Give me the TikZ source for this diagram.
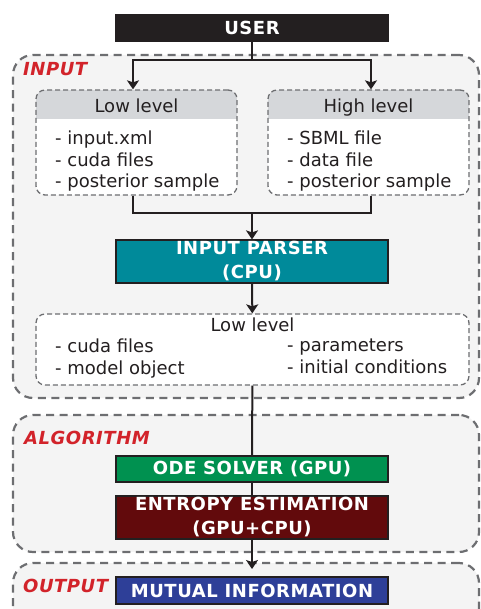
\documentclass[tikz,border=0pt]{standalone}
\usepackage{fontspec}
\setmainfont{DejaVu Sans}
\newfontfamily\stagefont[LetterSpace=3]{DejaVu Sans}
\usetikzlibrary{arrows.meta}
\definecolor{userblack}{HTML}{231F20}
\definecolor{parserteal}{HTML}{008A9A}
\definecolor{solvergreen}{HTML}{009150}
\definecolor{entropyred}{HTML}{620A0C}
\definecolor{infoblue}{HTML}{2E3F98}
\definecolor{boxgray}{HTML}{F4F4F4}
\definecolor{headgray}{HTML}{D5D7DA}
\definecolor{dashgray}{HTML}{6D6E71}
\definecolor{tagred}{HTML}{D2232A}

\begin{document}
\begin{tikzpicture}
[x=1pt,y=-1pt,
every node/.style={font=\fontsize{18}{21.5}\selectfont,text=userblack},
stage/.style={draw=userblack,line width=1.2pt,text=white,align=center,
  font=\stagefont\fontsize{18}{24}\selectfont\bfseries,minimum width=272pt,inner sep=0pt},
container/.style={draw=dashgray,fill=boxgray,line width=2.2pt,dash pattern=on 8pt off 5.5pt,
  rounded corners=20pt,minimum width=466pt,inner sep=0pt},
subbox/.style={draw=dashgray,fill=white,line width=1.3pt,dash pattern=on 5pt off 3pt,
  rounded corners=9pt,inner sep=0pt},
headed/.style={path picture={\fill[headgray,sharp corners] (path picture bounding box.north west)
  rectangle ([yshift=-29pt]path picture bounding box.north east);}},
tag/.style={anchor=base west,inner sep=0pt,text=tagred,font=\stagefont\fontsize{18}{22}\selectfont\bfseries\itshape},
list/.style={anchor=north west,align=left,inner sep=0pt},
conn/.style={draw=userblack,line width=2pt},
arrow/.style={conn,-{Stealth[length=9pt,width=12pt,inset=2pt]}},
]
\useasboundingbox (0,0) rectangle (480,609);
\clip (0,0) rectangle (480,609);

% the three stages
\node[container,minimum height=343pt] (inputbox) at (246,226.5) {};
\node[container,minimum height=137pt] (algobox) at (246,483.5) {};
\node[container,minimum height=100pt] (outputbox) at (246,613) {};
\node[tag] (inputtag) at (23,76) {INPUT};
\node[tag] (algotag) at (24,444.5) {ALGORITHM};
\node[tag] (outputtag) at (23,592) {OUTPUT};

% blocks
\node[stage,fill=userblack,minimum height=26pt] (user) at (252,28) {USER};
\node[stage,fill=parserteal,minimum height=43pt] (parser) at (252,261.5) {INPUT PARSER\\(CPU)};
\node[stage,fill=solvergreen,minimum height=26pt] (solver) at (252,469) {ODE SOLVER (GPU)};
\node[stage,fill=entropyred,minimum height=43pt] (entropy) at (252,517.5) {ENTROPY ESTIMATION\\(GPU+CPU)};
\node[stage,fill=infoblue,minimum height=27pt] (info) at (252,590.5) {MUTUAL INFORMATION};

% input files
\node[subbox,headed,minimum width=201pt,minimum height=105pt] (lowin) at (136.5,142.5) {};
\node[anchor=base] (lowhead) at (136.5,113) {Low level};
\node[list] (lowlist) at (55,131) {- input.xml\\- cuda files\\- posterior sample};
\node[subbox,headed,minimum width=201pt,minimum height=105pt] (highin) at (368.5,142.5) {};
\node[anchor=base] (highhead) at (368.5,113) {High level};
\node[list] (highlist) at (287,131) {- SBML file\\- data file\\- posterior sample};

% parsed files
\node[subbox,minimum width=433pt,minimum height=71pt] (lowout) at (252.5,349.5) {};
\node[anchor=base] (outhead) at (252.5,331) {Low level};
\node[list] (outleft) at (55,339) {- cuda files\\- model object};
\node[list] (outright) at (287,339) {- parameters\\- initial conditions};

% connectors
\coordinate (fork) at (252,60);
\coordinate (join) at (252,213);
\coordinate (outin) at (252,569);
\draw[conn] (user) -- (fork);
\draw[arrow] (fork) -| ([xshift=-3.5pt]lowin.north);
\draw[arrow] (fork) -| ([xshift=2.5pt]highin.north);
\draw[conn] ([xshift=-3.5pt]lowin.south) |- (join) -| ([xshift=2.5pt]highin.south);
\draw[arrow] (join) -- (parser);
\draw[arrow] (parser) -- (lowout);
\draw[conn] (lowout) -- (solver);
\draw[conn] (solver) -- (entropy);
\draw[arrow] (entropy) -- (outin);
\end{tikzpicture}
\end{document}
